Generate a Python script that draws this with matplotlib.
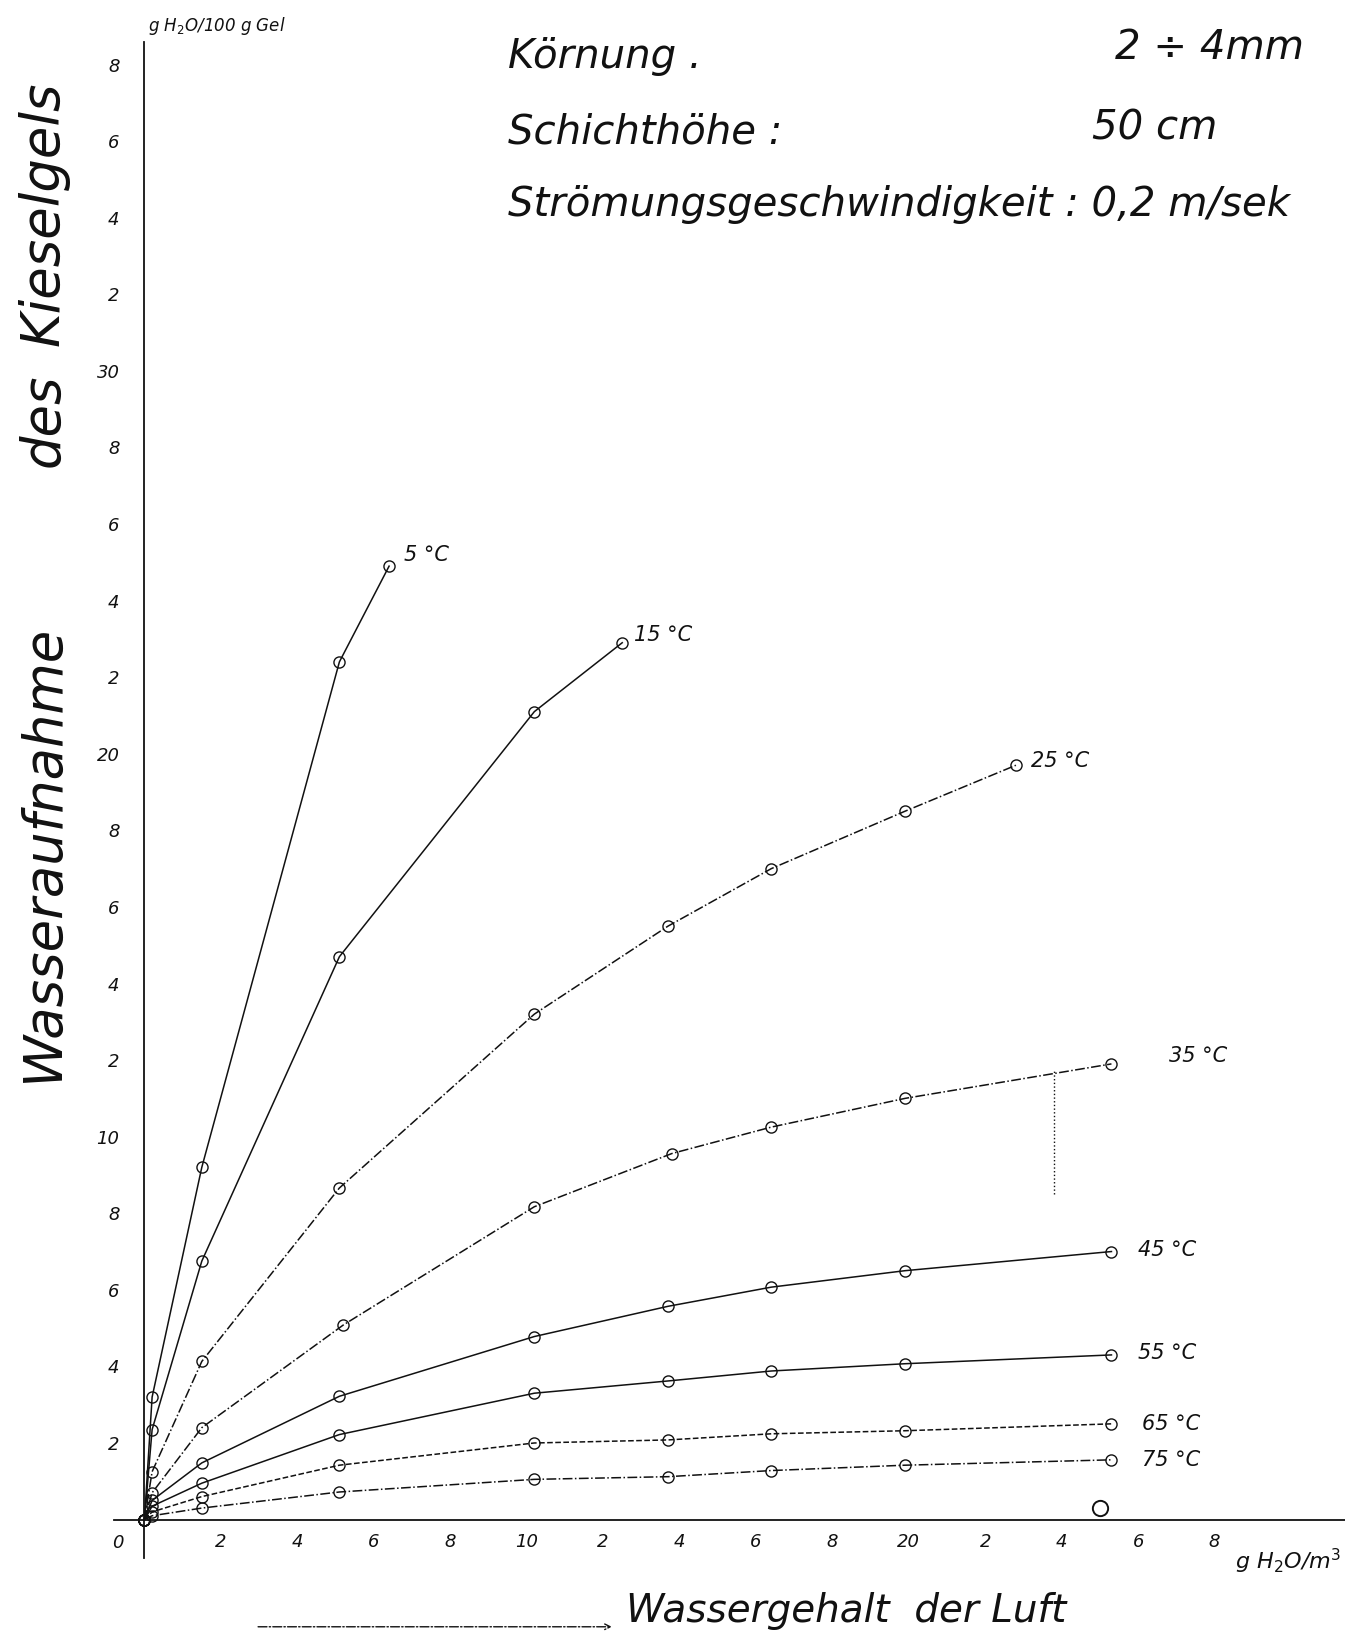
import numpy as np
import matplotlib
matplotlib.use("Agg")
import matplotlib.pyplot as plt

# values read from the scanned sheet
# x: Wassergehalt der Luft [g H2O/m3], y: Wasseraufnahme [g H2O/100 g Gel]
x_5 = [0, 0.2, 1.5, 5.1, 6.4]
y_5 = [0, 3.2, 9.2, 22.4, 24.9]

x_15 = [0, 0.2, 1.5, 5.1, 10.2, 12.5]
y_15 = [0, 2.35, 6.75, 14.7, 21.1, 22.9]

x_25 = [0, 0.2, 1.5, 5.1, 10.2, 13.7, 16.4, 19.9, 22.8]
y_25 = [0, 1.25, 4.13, 8.66, 13.2, 15.5, 17.0, 18.5, 19.7]

x_35 = [0, 0.2, 1.5, 5.2, 10.2, 13.8, 16.4, 19.9, 25.3]
y_35 = [0, 0.7, 2.4, 5.08, 8.17, 9.56, 10.25, 11.0, 11.9]

x_hot = [0, 0.2, 1.5, 5.1, 10.2, 13.7, 16.4, 19.9, 25.3]
y_45 = [0, 0.5, 1.48, 3.22, 4.78, 5.57, 6.07, 6.5, 7.0]
y_55 = [0, 0.35, 0.95, 2.22, 3.3, 3.62, 3.88, 4.07, 4.3]
y_65 = [0, 0.2, 0.6, 1.42, 2.0, 2.08, 2.24, 2.32, 2.5]
y_75 = [0, 0.1, 0.3, 0.72, 1.05, 1.12, 1.28, 1.42, 1.56]

x_single = [25.0]
y_single = [0.3]

ytick_vals = list(range(2, 40, 2))
ytick_labels = ['2', '4', '6', '8', '10', '2', '4', '6', '8', '20',
                '2', '4', '6', '8', '30', '2', '4', '6', '8']
xtick_vals = list(range(2, 30, 2))
xtick_labels = ['2', '4', '6', '8', '10', '2', '4', '6', '8', '20',
                '2', '4', '6', '8']

ink = '#111111'
hand = dict(family='DejaVu Sans', style='italic', color=ink)

fig = plt.figure(figsize=(13.45, 16.41), dpi=100)
ax = fig.add_axes([0.079, 0.046, 0.9207, 0.938])
ax.set_xlim(-1.0, 31.4)
ax.set_ylim(-1.2, 39)
for s in ax.spines.values():
    s.set_visible(False)
ax.spines['bottom'].set_position(('data', 0))
ax.spines['left'].set_position(('data', 0))

# hand drawn axes
ax.plot([-0.8, 31.4], [0, 0], color=ink, lw=1.3)
ax.plot([0, 0], [-1.0, 38.6], color=ink, lw=1.3)

ax.set_yticks(ytick_vals)
ax.set_yticklabels(ytick_labels, fontsize=13, **hand)
ax.set_xticks(xtick_vals)
ax.set_xticklabels(xtick_labels, fontsize=13, **hand)
ax.tick_params(axis='y', length=0, pad=18)
ax.tick_params(axis='x', length=0, pad=10)
ax.text(-0.7, -0.6, '0', fontsize=13, ha='center', va='center', **hand)

mk = dict(marker='o', ms=8, mfc='none', mec=ink, mew=1.0, color=ink, lw=1.1)
ax.plot(x_5, y_5, '-', **mk)
ax.plot(x_15, y_15, '-', **mk)
ax.plot(x_25, y_25, '-.', **mk)
ax.plot(x_35, y_35, '-.', **mk)
ax.plot(x_hot, y_45, '-', **mk)
ax.plot(x_hot, y_55, '-', **mk)
ax.plot(x_hot, y_65, '--', **mk)
ax.plot(x_hot, y_75, '-.', **mk)
ax.plot(x_single, y_single, 'o', ms=11, mfc='none', mec=ink, mew=1.4)

# dotted vertical guide under the 35 °C curve
ax.plot([23.8, 23.8], [8.5, 11.75], ':', color=ink, lw=1.0)

# curve labels
lbl = dict(fontsize=15, va='center', ha='left', **hand)
ax.text(6.8, 25.2, '5 °C', **lbl)
ax.text(12.8, 23.1, '15 °C', **lbl)
ax.text(23.2, 19.8, '25 °C', **lbl)
ax.text(26.8, 12.1, '35 °C', **lbl)
ax.text(26.0, 7.05, '45 °C', **lbl)
ax.text(26.0, 4.35, '55 °C', **lbl)
ax.text(26.1, 2.5, '65 °C', **lbl)
ax.text(26.1, 1.55, '75 °C', **lbl)

# y axis title, word by word as on the sheet
ytit = dict(fontsize=38, rotation=90, ha='center', va='center', **hand)
ax.text(-2.65, 17.4, 'Wasseraufnahme', **ytit)
ax.text(-2.65, 28.7, 'des', **ytit)
ax.text(-2.65, 34.1, 'Kieselgels', **ytit)
ax.annotate('', xy=(-2.65, 7.3), xytext=(-2.65, 3.6),
            arrowprops=dict(arrowstyle='->', color=ink, lw=1.0, ls='-.'))
ax.text(0.1, 39.0, 'g H$_2$O/100 g Gel', fontsize=12, ha='left', va='center', **hand)

ax.text(12.6, -2.4, 'Wassergehalt  der Luft', fontsize=28, ha='left',
        va='center', clip_on=False, **hand)
ax.annotate('', xy=(12.3, -2.8), xytext=(2.9, -2.8), annotation_clip=False,
            arrowprops=dict(arrowstyle='->', color=ink, lw=1.0, ls='-.'))
ax.text(31.3, -1.1, 'g H$_2$O/m$^3$', fontsize=16, ha='right', va='center',
        clip_on=False, **hand)

# test conditions
info = dict(fontsize=29, ha='left', va='center', **hand)
ax.text(9.5, 38.2, 'Körnung .', **info)
ax.text(25.4, 38.45, '2 ÷ 4mm', **info)
ax.text(9.5, 36.25, 'Schichthöhe :', **info)
ax.text(24.8, 36.35, '50 cm', **info)
ax.text(9.5, 34.35, 'Strömungsgeschwindigkeit : 0,2 m/sek', **info)

fig.savefig('out.png', dpi=100)
